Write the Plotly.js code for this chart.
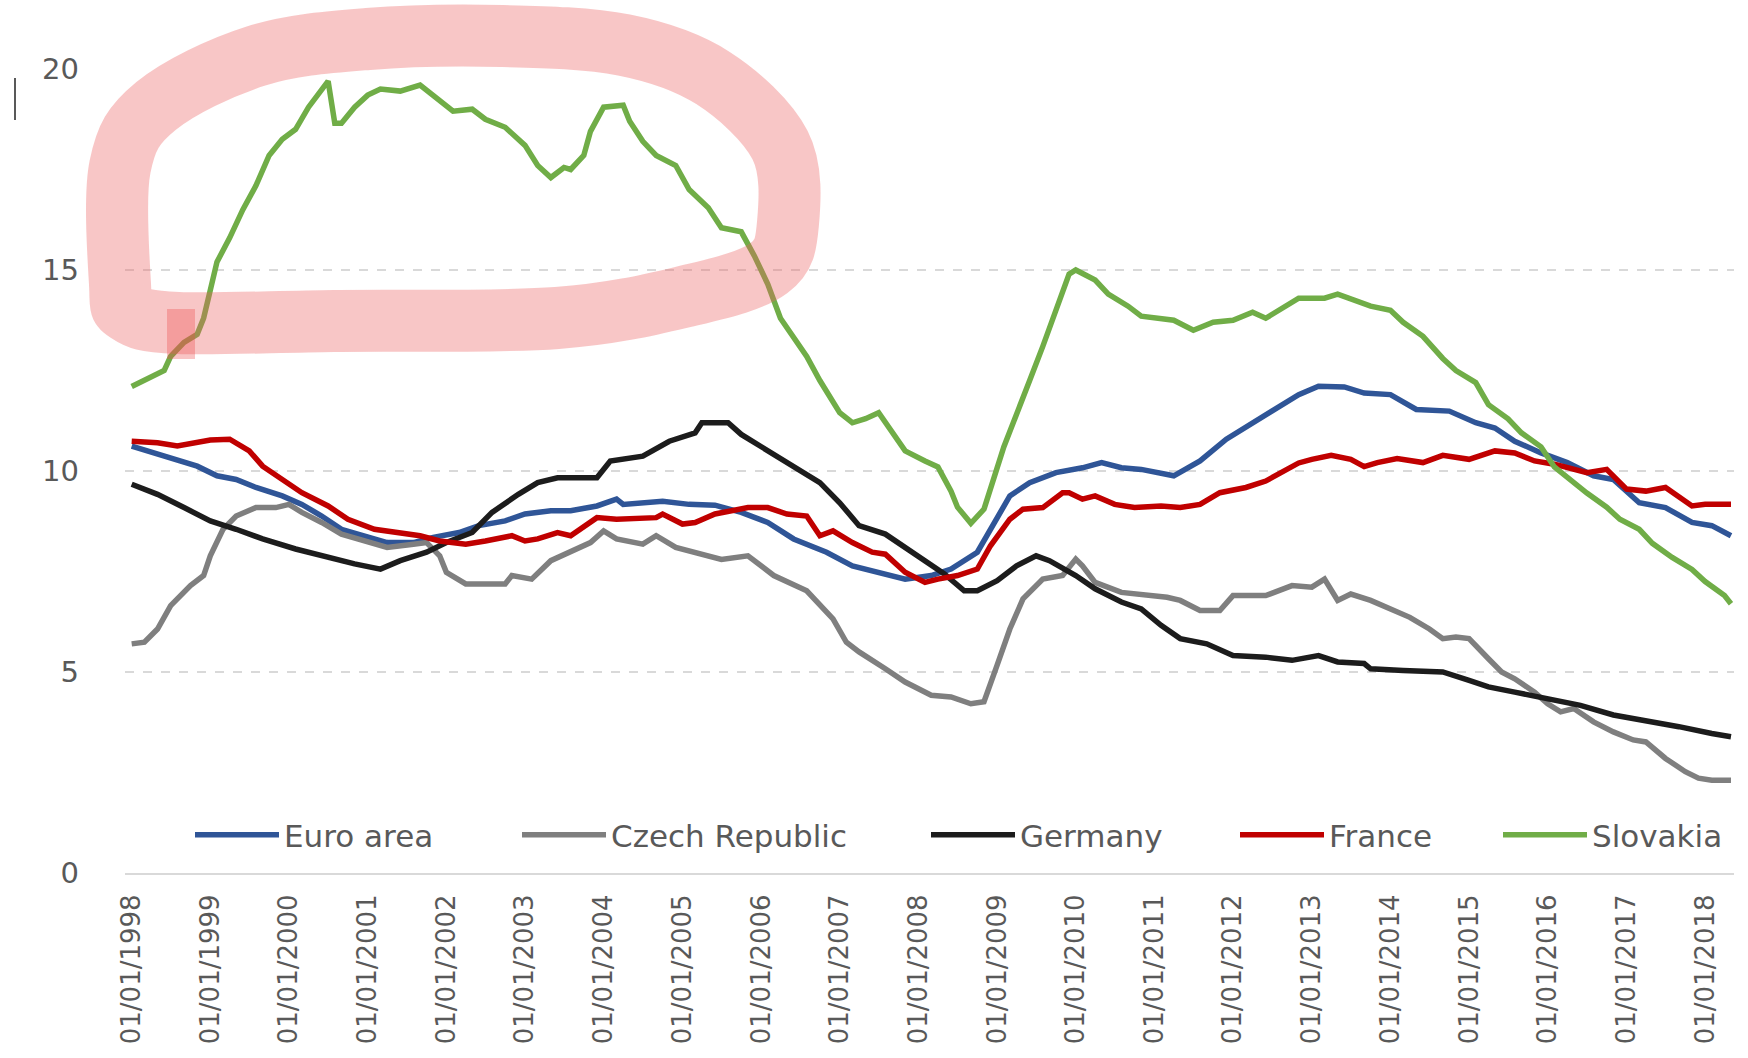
<!DOCTYPE html>
<html>
<head>
<meta charset="utf-8">
<script src="https://cdn.plot.ly/plotly-3.0.1.min.js"></script>
<style>html,body{margin:0;padding:0;background:#fff}#chart{width:1748px;height:1058px}</style>
</head>
<body>
<div id="chart"></div>
<script>
// ---------- DATA ----------
const seriesNames = ['Euro area', 'Czech Republic', 'Germany', 'France', 'Slovakia'];

const euroDates = ['1998-01','1998-05','1998-11','1999-02','1999-05','1999-08','1999-12','2000-03','2000-06','2000-09','2001-01','2001-04','2001-08','2001-11','2002-03','2002-06','2002-10','2003-01','2003-05','2003-08','2003-12','2004-03','2004-04','2004-10','2005-02','2005-06','2005-10','2006-02','2006-06','2006-11','2007-03','2007-07','2007-11','2008-03','2008-06','2008-10','2009-01','2009-03','2009-06','2009-10','2010-02','2010-05','2010-08','2010-11','2011-04','2011-08','2011-12','2012-05','2012-09','2012-11','2013-02','2013-06','2013-09','2014-01','2014-05','2014-10','2015-02','2015-05','2015-08','2015-12','2016-04','2016-08','2016-11','2017-03','2017-07','2017-11','2018-02','2018-05'];
const euroValues = [10.62,10.41,10.12,9.88,9.79,9.59,9.38,9.17,8.88,8.55,8.35,8.22,8.22,8.35,8.47,8.64,8.76,8.93,9.01,9.01,9.13,9.30,9.17,9.25,9.17,9.15,8.97,8.72,8.31,7.98,7.64,7.48,7.31,7.40,7.56,7.98,8.80,9.38,9.71,9.96,10.08,10.21,10.08,10.04,9.88,10.25,10.79,11.28,11.69,11.90,12.11,12.09,11.94,11.90,11.53,11.49,11.20,11.07,10.74,10.45,10.21,9.88,9.79,9.21,9.09,8.72,8.64,8.39];

const czechDates = ['1998-01','1998-03','1998-05','1998-07','1998-10','1998-12','1999-01','1999-03','1999-05','1999-08','1999-11','2000-01','2000-03','2000-06','2000-09','2001-01','2001-04','2001-08','2001-10','2001-12','2002-01','2002-04','2002-10','2002-11','2003-02','2003-05','2003-08','2003-11','2004-01','2004-03','2004-07','2004-09','2004-12','2005-03','2005-07','2005-11','2006-03','2006-08','2006-12','2007-02','2007-04','2007-08','2007-11','2008-03','2008-06','2008-09','2008-11','2009-01','2009-03','2009-05','2009-08','2009-11','2010-01','2010-02','2010-04','2010-08','2010-11','2011-03','2011-05','2011-08','2011-11','2012-01','2012-06','2012-10','2013-01','2013-03','2013-05','2013-07','2013-10','2014-01','2014-04','2014-07','2014-09','2014-11','2015-01','2015-04','2015-06','2015-08','2015-11','2016-01','2016-03','2016-05','2016-08','2016-11','2017-02','2017-04','2017-07','2017-10','2017-12','2018-02','2018-05'];
const czechValues = [5.70,5.74,6.07,6.65,7.15,7.40,7.89,8.55,8.88,9.09,9.09,9.17,8.97,8.72,8.43,8.22,8.10,8.18,8.22,7.89,7.48,7.19,7.19,7.40,7.31,7.77,7.98,8.22,8.51,8.31,8.18,8.39,8.10,7.98,7.80,7.89,7.40,7.02,6.32,5.74,5.50,5.08,4.75,4.42,4.38,4.21,4.26,5.17,6.07,6.82,7.31,7.40,7.81,7.64,7.23,6.98,6.94,6.86,6.78,6.53,6.53,6.90,6.90,7.15,7.11,7.31,6.78,6.94,6.78,6.57,6.36,6.07,5.83,5.87,5.83,5.33,5.00,4.83,4.50,4.21,4.01,4.09,3.76,3.51,3.31,3.26,2.85,2.52,2.36,2.31,2.31];

const germanyDates = ['1998-01','1998-05','1998-09','1999-01','1999-05','1999-09','2000-02','2000-07','2000-11','2001-03','2001-06','2001-10','2002-01','2002-05','2002-08','2002-12','2003-03','2003-06','2003-12','2004-02','2004-07','2004-11','2005-03','2005-04','2005-08','2005-10','2006-02','2006-06','2006-10','2007-01','2007-04','2007-08','2007-11','2008-02','2008-05','2008-08','2008-10','2009-01','2009-04','2009-07','2009-09','2010-01','2010-04','2010-08','2010-11','2011-02','2011-05','2011-09','2012-01','2012-06','2012-10','2013-02','2013-05','2013-09','2013-10','2014-03','2014-09','2015-01','2015-04','2015-08','2016-01','2016-06','2016-11','2017-04','2017-09','2018-02','2018-05'];
const germanyValues = [9.67,9.42,9.09,8.76,8.55,8.31,8.06,7.85,7.69,7.56,7.77,7.98,8.22,8.47,8.97,9.42,9.71,9.83,9.83,10.25,10.37,10.74,10.95,11.20,11.20,10.91,10.50,10.12,9.71,9.21,8.64,8.43,8.10,7.73,7.44,7.02,7.02,7.27,7.64,7.89,7.77,7.40,7.07,6.74,6.57,6.16,5.83,5.70,5.41,5.37,5.29,5.41,5.25,5.21,5.08,5.04,5.00,4.79,4.63,4.50,4.34,4.17,3.93,3.80,3.64,3.47,3.39];

const franceDates = ['1998-01','1998-05','1998-08','1998-11','1999-01','1999-04','1999-07','1999-09','1999-12','2000-03','2000-07','2000-10','2001-02','2001-05','2001-09','2001-12','2002-04','2002-07','2002-11','2003-01','2003-03','2003-06','2003-08','2003-12','2004-03','2004-09','2004-10','2005-01','2005-03','2005-06','2005-11','2006-02','2006-05','2006-08','2006-10','2006-12','2007-03','2007-06','2007-08','2007-11','2008-02','2008-04','2008-07','2008-10','2008-12','2009-03','2009-05','2009-08','2009-11','2009-12','2010-02','2010-04','2010-07','2010-10','2011-02','2011-05','2011-08','2011-11','2012-03','2012-06','2012-09','2012-11','2013-01','2013-04','2013-07','2013-09','2013-11','2014-02','2014-06','2014-09','2015-01','2015-05','2015-08','2015-11','2016-02','2016-05','2016-07','2016-10','2017-01','2017-04','2017-07','2017-11','2018-01','2018-05'];
const franceValues = [10.74,10.70,10.62,10.70,10.77,10.79,10.50,10.12,9.79,9.46,9.13,8.80,8.55,8.47,8.39,8.26,8.18,8.26,8.39,8.26,8.31,8.47,8.39,8.84,8.80,8.84,8.93,8.68,8.72,8.93,9.09,9.09,8.93,8.88,8.39,8.51,8.22,7.98,7.93,7.48,7.23,7.31,7.40,7.56,8.14,8.80,9.05,9.09,9.46,9.46,9.30,9.38,9.17,9.09,9.13,9.09,9.17,9.46,9.59,9.75,10.04,10.20,10.29,10.39,10.29,10.11,10.21,10.31,10.21,10.39,10.29,10.50,10.45,10.25,10.17,10.04,9.96,10.04,9.55,9.50,9.59,9.13,9.17,9.17];

const slovakiaDates = ['1998-01','1998-03','1998-06','1998-07','1998-09','1998-11','1998-12','1999-01','1999-02','1999-04','1999-06','1999-08','1999-10','1999-12','2000-02','2000-04','2000-06','2000-07','2000-08','2000-09','2000-11','2001-01','2001-03','2001-06','2001-09','2001-12','2002-02','2002-05','2002-07','2002-10','2003-01','2003-03','2003-05','2003-07','2003-08','2003-10','2003-11','2004-01','2004-04','2004-05','2004-07','2004-09','2004-12','2005-02','2005-05','2005-07','2005-10','2005-12','2006-02','2006-04','2006-06','2006-08','2006-10','2007-01','2007-03','2007-05','2007-07','2007-09','2007-11','2008-02','2008-04','2008-06','2008-07','2008-09','2008-11','2009-02','2009-04','2009-06','2009-08','2009-10','2009-12','2010-01','2010-04','2010-06','2010-09','2010-11','2011-02','2011-04','2011-07','2011-10','2012-01','2012-04','2012-06','2012-08','2012-11','2013-01','2013-03','2013-05','2013-08','2013-10','2014-01','2014-03','2014-06','2014-09','2014-11','2015-02','2015-04','2015-07','2015-09','2015-12','2016-02','2016-05','2016-07','2016-10','2016-12','2017-03','2017-05','2017-08','2017-11','2018-01','2018-04','2018-05'];
const slovakiaValues = [12.10,12.25,12.50,12.85,13.20,13.40,13.80,14.50,15.20,15.80,16.50,17.10,17.85,18.25,18.50,19.05,19.50,19.70,18.65,18.65,19.05,19.35,19.50,19.45,19.60,19.20,18.95,19.00,18.75,18.55,18.10,17.60,17.30,17.55,17.50,17.85,18.45,19.05,19.10,18.70,18.20,17.85,17.60,17.00,16.55,16.05,15.95,15.35,14.65,13.80,13.35,12.85,12.25,11.45,11.20,11.30,11.45,10.95,10.50,10.25,10.10,9.50,9.10,8.70,9.05,10.60,11.45,12.25,13.10,14.05,14.90,15.00,14.75,14.40,14.10,13.85,13.80,13.75,13.50,13.70,13.75,13.95,13.80,14.00,14.30,14.30,14.30,14.40,14.20,14.10,14.00,13.70,13.35,12.80,12.50,12.20,11.65,11.30,10.95,10.60,10.10,9.70,9.45,9.10,8.80,8.55,8.20,7.85,7.55,7.25,6.90,6.70];

const xTickDates = ['1998-01-01','1999-01-01','2000-01-01','2001-01-01','2002-01-01','2003-01-01','2004-01-01','2005-01-01','2006-01-01','2007-01-01','2008-01-01','2009-01-01','2010-01-01','2011-01-01','2012-01-01','2013-01-01','2014-01-01','2015-01-01','2016-01-01','2017-01-01','2018-01-01'];
const xTickLabels = ['01/01/1998','01/01/1999','01/01/2000','01/01/2001','01/01/2002','01/01/2003','01/01/2004','01/01/2005','01/01/2006','01/01/2007','01/01/2008','01/01/2009','01/01/2010','01/01/2011','01/01/2012','01/01/2013','01/01/2014','01/01/2015','01/01/2016','01/01/2017','01/01/2018'];
const yTickValues = [0, 5, 10, 15, 20];

// ---------- STYLE ----------
const seriesColors = ['#2f5597', '#7f7f7f', '#1c1c1c', '#c00000', '#70ad47'];
const allDates = [euroDates, czechDates, germanyDates, franceDates, slovakiaDates];
const allValues = [euroValues, czechValues, germanyValues, franceValues, slovakiaValues];

const W = 1748, H = 1058, ML = 125, MR = 14, MT = 69, MB = 185;
const PW = W - ML - MR, PH = H - MT - MB;
const px2x = X => (X - ML) / PW;
const py2y = Y => (H - MB - Y) / PH;
const FONT = 'DejaVu Sans';
const TXT = '#595959';

const traces = seriesNames.map((name, i) => ({
  type: 'scatter', mode: 'lines', name: name,
  x: allDates[i], y: allValues[i],
  line: { color: seriesColors[i], width: 5.5 },
  legend: i === 0 ? 'legend' : 'legend' + (i + 1),
  hoverinfo: 'skip'
}));

// legend entry left positions (pixels)
const legendLeft = [190, 517, 926, 1235, 1498];
function legendAt(X) {
  return {
    orientation: 'h', x: px2x(X), xanchor: 'left', y: py2y(835), yanchor: 'middle',
    bgcolor: 'rgba(0,0,0,0)', borderwidth: 0, itemwidth: 84,
    font: { family: FONT, size: 31, color: TXT }
  };
}

// hand-drawn highlight ring (annotation drawn over the chart)
const ringPts = [[120,284],[120,167],[156,106],[256,56],[368,39],[502,36],[624,45],[713,78],[780,145],[788,223],[769,268],[691,295],[557,318],[334,321],[178,323],[128,312]];
function closedSpline(pts) {
  const n = pts.length;
  const f = p => px2x(p[0]).toFixed(5) + ',' + py2y(p[1]).toFixed(5);
  let d = 'M' + f(pts[0]);
  for (let i = 0; i < n; i++) {
    const p0 = pts[(i - 1 + n) % n], p1 = pts[i], p2 = pts[(i + 1) % n], p3 = pts[(i + 2) % n];
    const c1 = [p1[0] + (p2[0] - p0[0]) / 6, p1[1] + (p2[1] - p0[1]) / 6];
    const c2 = [p2[0] - (p3[0] - p1[0]) / 6, p2[1] - (p3[1] - p1[1]) / 6];
    d += ' C' + f(c1) + ' ' + f(c2) + ' ' + f(p2);
  }
  return d + ' Z';
}

const shapes = [
  { type: 'path', xref: 'paper', yref: 'paper', path: closedSpline(ringPts), layer: 'above',
    line: { color: 'rgba(235,98,98,0.36)', width: 62 }, fillcolor: 'rgba(0,0,0,0)' },
  { type: 'rect', xref: 'paper', yref: 'paper', x0: px2x(167), x1: px2x(195), y0: py2y(359), y1: py2y(309),
    layer: 'above', line: { width: 0 }, fillcolor: 'rgba(235,70,70,0.32)' },
  { type: 'line', xref: 'paper', yref: 'paper', x0: px2x(15), x1: px2x(15), y0: py2y(78), y1: py2y(120),
    line: { color: '#222', width: 1.5 } }
];

const layout = {
  width: W, height: H,
  margin: { l: ML, r: MR, t: MT, b: MB, pad: 0 },
  paper_bgcolor: '#ffffff', plot_bgcolor: '#ffffff',
  font: { family: FONT, color: TXT },
  showlegend: true,
  xaxis: {
    type: 'date', range: ['1997-12-01', '2018-05-15'],
    tickmode: 'array', tickvals: xTickDates, ticktext: xTickLabels,
    tickangle: -90, tickfont: { family: FONT, size: 26, color: TXT },
    showgrid: false, zeroline: false, showline: true, linecolor: '#d9d9d9', linewidth: 2,
    ticks: '', ticklabelstandoff: 9, fixedrange: true
  },
  yaxis: {
    range: [0, 20], tickmode: 'array', tickvals: yTickValues,
    showgrid: true, gridcolor: '#d9d9d9', gridwidth: 1.5, griddash: 'dash',
    zeroline: false, showline: false, ticks: '',
    tickfont: { family: FONT, size: 29, color: TXT }, ticklabelstandoff: 45, fixedrange: true
  },
  shapes: shapes
};
layout.legend = legendAt(legendLeft[0]);
for (let i = 1; i < 5; i++) layout['legend' + (i + 1)] = legendAt(legendLeft[i]);

Plotly.newPlot('chart', traces, layout, { displayModeBar: false, staticPlot: true });
</script>
</body>
</html>
